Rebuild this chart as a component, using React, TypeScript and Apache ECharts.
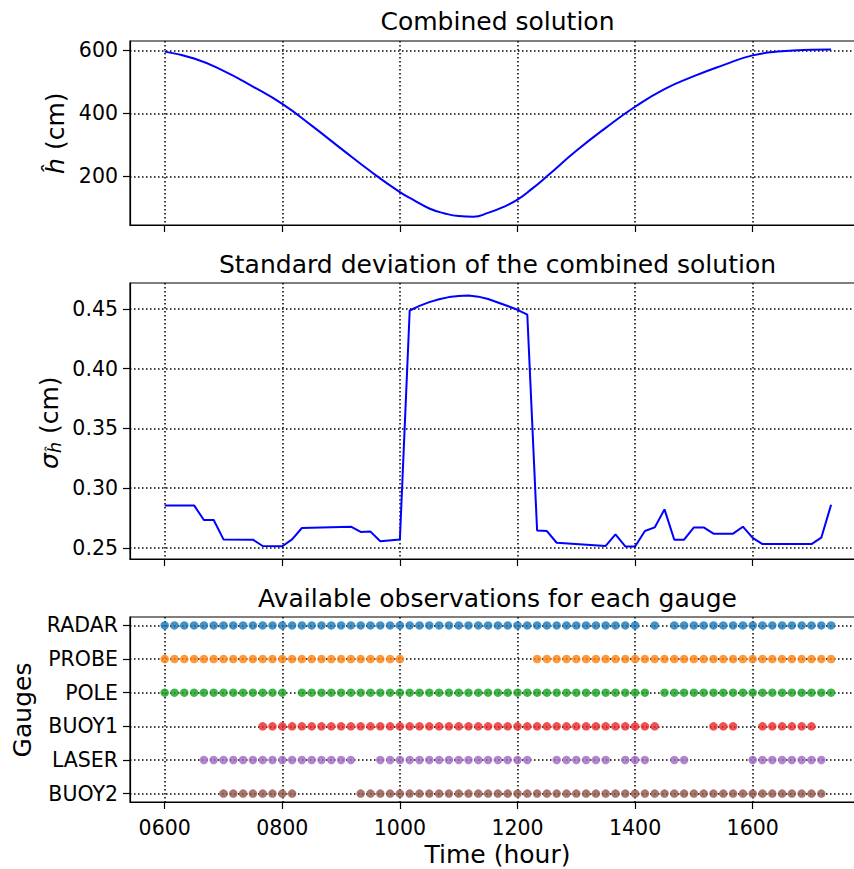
import { useEffect, useRef } from "react";
import * as echarts from "echarts";

// ---------- data ----------
const xTickHours = [6, 8, 10, 12, 14, 16];
const hTicks = [200, 400, 600];
const sigmaTicks = [0.25, 0.3, 0.35, 0.4, 0.45];
const gaugeNames = ["RADAR", "PROBE", "POLE", "BUOY1", "LASER", "BUOY2"];
const gaugeTicks = [0, 1, 2, 3, 4, 5];
const gaugeColors = ["#1577b6", "#ff7f0e", "#14a01e", "#eb2626", "#9d68c2", "#905448"];

// combined solution (hours, cm)
const hTimes = [6.0, 6.5, 7.0, 7.5, 8.0, 8.5, 9.0, 9.5, 10.0, 10.25, 10.5, 10.75, 11.0, 11.25, 11.5, 11.75, 12.0, 12.25, 12.5, 13.0, 13.5, 14.0, 14.5, 15.0, 15.5, 16.0, 16.5, 17.0, 17.333];
const hValues = [596, 574, 535, 485, 430, 361, 288, 216, 150, 123, 98, 83, 74, 72, 84, 102, 126, 161, 200, 281, 354, 421, 477, 518, 553, 584, 597, 602, 603];

// standard deviation vertices (10-minute slot index from 06:00, cm)
const sigmaSlots = [0, 3, 4, 5, 6, 9, 10, 12, 13, 14, 19, 20, 21, 22, 24, 25, 26, 27, 28, 29, 30, 31, 32, 33, 34, 35, 36, 37, 38, 39, 40, 45, 46, 47, 48, 49, 50, 51, 52, 53, 54, 55, 56, 58, 59, 60, 61, 66, 67, 68];
const sigmaValues = [0.2856, 0.2856, 0.2734, 0.2734, 0.2572, 0.257, 0.2517, 0.2515, 0.2572, 0.2667, 0.2678, 0.2634, 0.2637, 0.2556, 0.2572, 0.4486, 0.4525, 0.4556, 0.458, 0.4598, 0.4608, 0.4611, 0.4602, 0.4582, 0.4553, 0.4524, 0.4492, 0.4452, 0.2647, 0.2642, 0.2544, 0.2517, 0.2614, 0.2513, 0.2513, 0.2642, 0.2672, 0.2823, 0.2569, 0.2569, 0.2672, 0.2672, 0.262, 0.262, 0.2678, 0.2584, 0.2533, 0.2533, 0.2586, 0.2862];

// available observations: runs of 10-minute slots [first, last] from 06:00
const radarRuns = [[0, 48], [50, 50], [52, 68]];
const probeRuns = [[0, 24], [38, 68]];
const poleRuns = [[0, 12], [14, 49], [51, 68]];
const buoy1Runs = [[10, 50], [56, 58], [61, 66]];
const laserRuns = [[4, 19], [22, 37], [40, 45], [47, 49], [52, 53], [60, 67]];
const buoy2Runs = [[6, 13], [20, 67]];
const gaugeRuns = [radarRuns, probeRuns, poleRuns, buoy1Runs, laserRuns, buoy2Runs];

// ---------- helpers ----------
const FONT = "DejaVu Sans";
const GRID_LEFT = 130;
const GRID_WIDTH = 735;
const X_MIN = 5.41;
const X_MAX = 17.91;
const CX = GRID_LEFT + GRID_WIDTH / 2;
const TICK_FS = 20.5;
const LABEL_FS = 25;
const slotToHour = (s: number) => 6 + s / 6;
const runsToSlots = (runs: number[][]) => {
  const out: number[] = [];
  runs.forEach(([a, b]) => {
    for (let s = a; s <= b; s++) out.push(s);
  });
  return out;
};

const GRIDS = [
  { top: 41, height: 184 },
  { top: 283, height: 276 },
  { top: 617, height: 185 },
];

const dotted = { color: "#000", type: [1.5, 2.5] as any, width: 1.5 };

function makeX(gridIndex: number) {
  return {
    type: "value",
    gridIndex,
    min: X_MIN,
    max: X_MAX,
    axisLine: { show: true, onZero: false, lineStyle: { color: "#000", width: 1.2 } },
    axisTick: { show: true, inside: false, length: 7, customValues: xTickHours, lineStyle: { color: "#000", width: 1.2 } },
    axisLabel: {
      show: gridIndex === 2,
      customValues: xTickHours,
      formatter: (v: number) => String(Math.round(v * 100)).padStart(4, "0"),
      fontSize: TICK_FS,
      fontFamily: FONT,
      color: "#000",
      margin: 15,
    },
    splitLine: { show: true, lineStyle: dotted },
  };
}

function makeY(gridIndex: number, min: number, max: number, ticks: number[], fmt: (v: number) => string) {
  return {
    type: "value",
    gridIndex,
    min,
    max,
    axisLine: { show: true, onZero: false, lineStyle: { color: "#000", width: 1.2 } },
    axisTick: { show: true, inside: false, length: 7, customValues: ticks, lineStyle: { color: "#000", width: 1.2 } },
    axisLabel: { customValues: ticks, formatter: fmt, fontSize: TICK_FS, fontFamily: FONT, color: "#000", margin: 12 },
    splitLine: { show: true, lineStyle: dotted },
  };
}

const txt = (text: string, x: number, y: number, extra: any = {}) => ({
  type: "text",
  x,
  y,
  style: { text, fontSize: LABEL_FS, fontFamily: FONT, fill: "#000", align: "center", verticalAlign: "middle", ...extra },
});

const part = (text: string, x: number, y: number, fontSize: number, italic: boolean) => ({
  type: "text",
  x,
  y,
  style: {
    text,
    fontSize,
    fontStyle: italic ? "italic" : "normal",
    fontFamily: FONT,
    fill: "#000",
    align: "left",
    verticalAlign: "middle",
  },
});

export default function App() {
  const ref = useRef<HTMLDivElement>(null);
  useEffect(() => {
    document.body.style.margin = "0";
    if (!ref.current) return;
    const chart = echarts.init(ref.current, null, { renderer: "svg" });

    const gaugeSeries = gaugeNames.map((name, i) => ({
      name,
      type: "scatter",
      xAxisIndex: 2,
      yAxisIndex: 2,
      symbol: "circle",
      symbolSize: 8.5,
      itemStyle: { color: gaugeColors[i] },
      data: runsToSlots(gaugeRuns[i]).map((s) => [slotToHour(s), 5 - i]),
    }));

    const option: any = {
      animation: false,
      backgroundColor: "#fff",
      grid: GRIDS.map((g) => ({
        left: GRID_LEFT,
        width: GRID_WIDTH,
        top: g.top,
        height: g.height,
        show: true,
        borderColor: "#000",
        borderWidth: 1.2,
        backgroundColor: "transparent",
      })),
      xAxis: [makeX(0), makeX(1), makeX(2)],
      yAxis: [
        makeY(0, 45.5, 629.7, hTicks, (v) => String(Math.round(v))),
        makeY(1, 0.2408, 0.4716, sigmaTicks, (v) => v.toFixed(2)),
        makeY(2, -0.25, 5.25, gaugeTicks, (v) => gaugeNames[5 - Math.round(v)]),
      ],
      series: [
        {
          type: "line",
          xAxisIndex: 0,
          yAxisIndex: 0,
          smooth: 0.5,
          showSymbol: false,
          lineStyle: { color: "#0000ff", width: 2 },
          data: hTimes.map((t, i) => [t, hValues[i]]),
        },
        {
          type: "line",
          xAxisIndex: 1,
          yAxisIndex: 1,
          showSymbol: false,
          lineStyle: { color: "#0000ff", width: 2 },
          data: sigmaSlots.map((s, i) => [slotToHour(s), sigmaValues[i]]),
        },
        ...gaugeSeries,
      ],
      graphic: [
        txt("Combined solution", CX, 21),
        txt("Standard deviation of the combined solution", CX, 264),
        txt("Available observations for each gauge", CX, 598),
        txt("Time (hour)", CX, 854),
        {
          type: "group",
          x: 55,
          y: 134,
          rotation: Math.PI / 2,
          children: [part("\u0125", -40, 0, LABEL_FS, true), part(" (cm)", -24, 0, LABEL_FS, false)],
        },
        {
          type: "group",
          x: 49,
          y: 423,
          rotation: Math.PI / 2,
          children: [
            part("\u03C3", -46, 0, LABEL_FS, true),
            part("\u0125", -30, 6, 17.5, true),
            part(" (cm)", -19, 0, LABEL_FS, false),
          ],
        },
        { ...txt("Gauges", 22, 710), rotation: Math.PI / 2 },
      ],
    };
    chart.setOption(option);
    return () => chart.dispose();
  }, []);
  return (
    <div style={{ width: 854, height: 869, overflow: "hidden", position: "relative" }}>
      <div ref={ref} style={{ width: 880, height: 869 }} />
    </div>
  );
}
